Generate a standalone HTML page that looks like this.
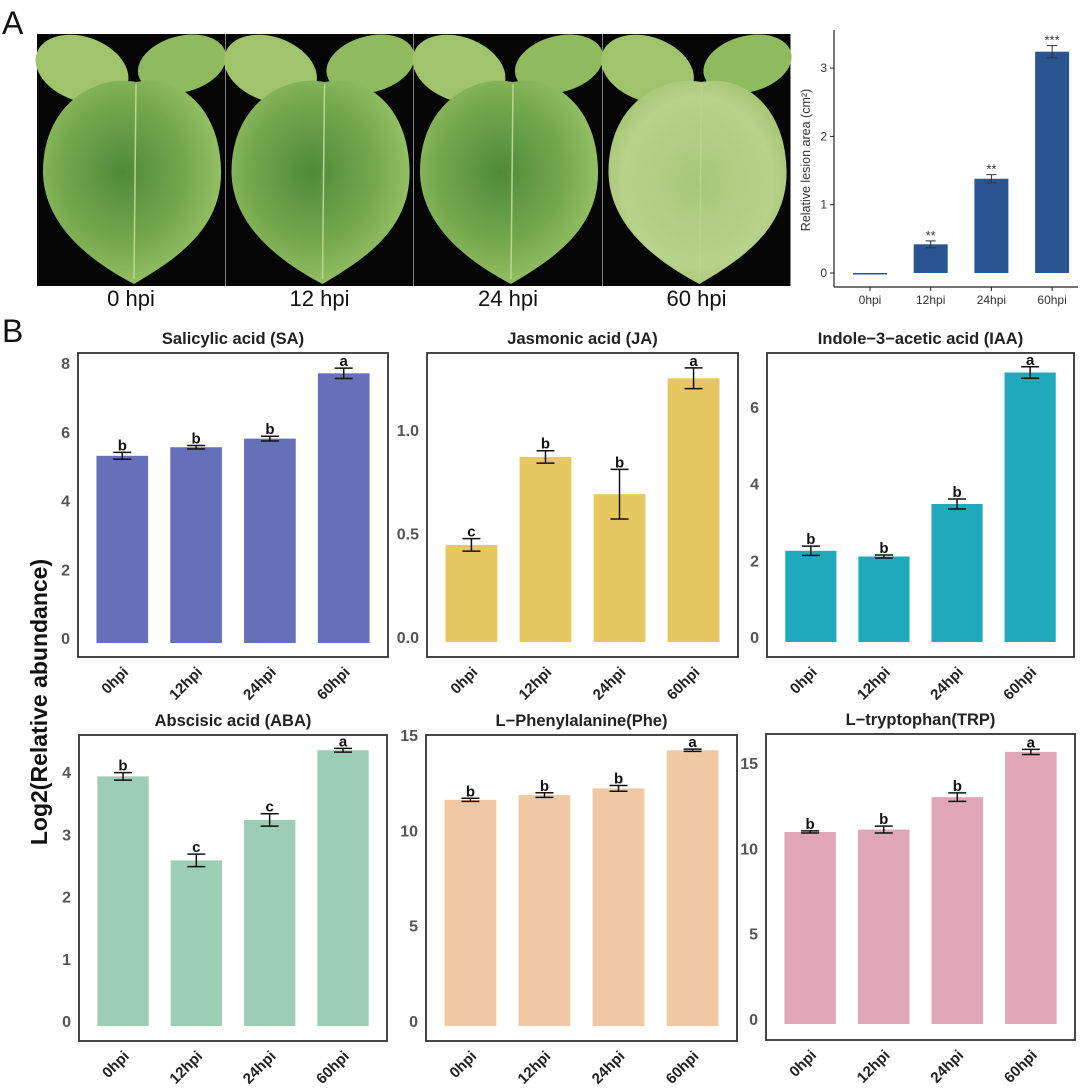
<!DOCTYPE html>
<html><head><meta charset="utf-8">
<style>
html,body{margin:0;padding:0;background:#fff;}
svg{display:block;font-family:"Liberation Sans",Arial,sans-serif;}
</style></head>
<body>
<svg id="fig" width="1080" height="1089" viewBox="0 0 1080 1089" xmlns="http://www.w3.org/2000/svg">
<defs>
<radialGradient id="leafg" cx="0.45" cy="0.45" r="0.6">
<stop offset="0" stop-color="#4f8a3a"/><stop offset="0.6" stop-color="#76a94e"/><stop offset="1" stop-color="#9cc468"/>
</radialGradient>
<radialGradient id="leafg2" cx="0.5" cy="0.5" r="0.6">
<stop offset="0" stop-color="#a8c878"/><stop offset="0.7" stop-color="#b9d28a"/><stop offset="1" stop-color="#9bbf6a"/>
</radialGradient>
</defs>
<text x="2" y="34" font-size="32" fill="#111">A</text>
<text x="2" y="342" font-size="32" fill="#111">B</text>
<g id="photos"></g>
<g id="lesion"></g>
<g id="panels"></g>
<text transform="translate(47,702) rotate(-90)" text-anchor="middle" font-size="23" font-weight="bold" fill="#111">Log2(Relative abundance)</text>
</svg>
<script>
const NS="http://www.w3.org/2000/svg";
function mk(tag,attrs,parent,txt){const e=document.createElementNS(NS,tag);for(const k in attrs)e.setAttribute(k,attrs[k]);if(txt!==undefined)e.textContent=txt;parent.appendChild(e);return e;}

// ---------- photos ----------
const photoLabels=["0 hpi","12 hpi","24 hpi","60 hpi"];
const photos=document.getElementById('photos');
photoLabels.forEach((lab,i)=>{
  const x0=37+i*188.5, y0=34, w=188, h=252;
  const g=mk('g',{},photos);
  
  
  mk('rect',{x:x0,y:y0,width:w,height:h,fill:'#050505'},g);
  mk('ellipse',{cx:x0+45,cy:y0+35,rx:48,ry:32,fill:'#9fc46c',transform:`rotate(20 ${x0+45} ${y0+35})`},g);
  mk('ellipse',{cx:x0+145,cy:y0+30,rx:45,ry:28,fill:'#8fbb5e',transform:`rotate(-15 ${x0+145} ${y0+30})`},g);
  const cx=x0+w/2+5;
  const d=`M${cx} ${y0+48} C${cx-40} ${y0+40} ${x0+5} ${y0+70} ${x0+6} ${y0+140} C${x0+8} ${y0+195} ${cx-40} ${y0+230} ${cx-2} ${y0+250} C${cx+40} ${y0+225} ${x0+w-2} ${y0+195} ${x0+w-4} ${y0+135} C${x0+w-6} ${y0+70} ${cx+40} ${y0+40} ${cx} ${y0+48} Z`;
  mk('path',{d:d,fill:i===3?'url(#leafg2)':'url(#leafg)'},g);
  mk('line',{x1:cx,y1:y0+50,x2:cx-2,y2:y0+245,stroke:'#b8d690','stroke-width':1.5},g);
  const t=mk('text',{x:x0+w/2,y:306,'text-anchor':'middle','font-size':22,fill:'#111'},g,lab);
  
  
});

// ---------- lesion chart ----------
const lesionCats=["0hpi","12hpi","24hpi","60hpi"];
const lesionVals=[0.0,0.42,1.38,3.24];
const lesionErr=[0.0,0.05,0.06,0.09];
const lesionStars=["","**","**","***"];
const lesionTicks=[0,1,2,3];
(function(){
  const L=document.getElementById('lesion');
  const axX=834, axY=287, y0=273, ppu=68.3;
  const xs=i=>870+i*60.7;
  const ys=v=>y0-v*ppu;
  mk('line',{x1:axX,y1:30,x2:axX,y2:axY,stroke:'#222','stroke-width':1.2},L);
  mk('line',{x1:axX,y1:axY,x2:1078,y2:axY,stroke:'#222','stroke-width':1.2},L);
  lesionTicks.forEach(t=>{
    mk('line',{x1:axX-4,y1:ys(t),x2:axX,y2:ys(t),stroke:'#222'},L);
    const e=mk('text',{x:axX-7,y:ys(t)+4,'text-anchor':'end','font-size':12,fill:'#333'},L,String(t));
    
    
  });
  lesionCats.forEach((c,i)=>{
    const cx=xs(i), v=lesionVals[i];
    mk('line',{x1:cx,y1:axY,x2:cx,y2:axY+4,stroke:'#222'},L);
    const r=mk('rect',{x:cx-17,y:ys(v),width:34,height:Math.max(1.5,y0-ys(v)),fill:'#2a5591'},L);
    
    
    if(lesionErr[i]>0){
      const t=ys(v+lesionErr[i]), b=ys(v-lesionErr[i]);
      mk('line',{x1:cx,y1:t,x2:cx,y2:b,stroke:'#333'},L);
      mk('line',{x1:cx-5,y1:t,x2:cx+5,y2:t,stroke:'#333'},L);
      mk('line',{x1:cx-5,y1:b,x2:cx+5,y2:b,stroke:'#333'},L);
    }
    if(lesionStars[i]){
      const s=mk('text',{x:cx,y:ys(v+lesionErr[i])-1,'text-anchor':'middle','font-size':13,fill:'#333'},L,lesionStars[i]);
      
      
    }
    const tl=mk('text',{x:cx,y:304,'text-anchor':'middle','font-size':12,fill:'#333'},L,c);
    
    
  });
  const yt=mk('text',{transform:'translate(810,160) rotate(-90)','text-anchor':'middle','font-size':12.5,fill:'#333'},L,'Relative lesion area (cm²)');
  
  
})();

// ---------- hormone panels ----------
const cats=["0hpi","12hpi","24hpi","60hpi"];
const saVals=[5.3,5.55,5.8,7.7];   const saErr=[0.1,0.05,0.07,0.15]; const saLet=["b","b","b","a"]; const saTicks=[0,2,4,6,8];
const jaVals=[0.445,0.87,0.69,1.25]; const jaErr=[0.03,0.03,0.12,0.05]; const jaLet=["c","b","b","a"]; const jaTicks=["0.0","0.5","1.0"];
const iaaVals=[2.25,2.1,3.47,6.9]; const iaaErr=[0.12,0.04,0.13,0.15]; const iaaLet=["b","b","b","a"]; const iaaTicks=[0,2,4,6];
const abaVals=[3.93,2.58,3.23,4.35]; const abaErr=[0.06,0.1,0.1,0.03]; const abaLet=["b","c","c","a"]; const abaTicks=[0,1,2,3,4];
const pheVals=[11.6,11.85,12.2,14.2]; const pheErr=[0.08,0.12,0.15,0.06]; const pheLet=["b","b","b","a"]; const pheTicks=[0,5,10,15];
const trpVals=[10.96,11.1,13.0,15.65]; const trpErr=[0.06,0.2,0.25,0.15]; const trpLet=["b","b","b","a"]; const trpTicks=[0,5,10,15];

const panels=[
 {id:'sa',title:'Salicylic acid (SA)',vals:saVals,err:saErr,let:saLet,ticks:saTicks,color:'#6670b8',x0:78,x1:388,top:353,bot:657,zero:638,unit:(638-363)/8},
 {id:'ja',title:'Jasmonic acid (JA)',vals:jaVals,err:jaErr,let:jaLet,ticks:jaTicks,color:'#e5c862',x0:427,x1:738,top:353,bot:657,zero:637,unit:(637-430)/1},
 {id:'iaa',title:'Indole−3−acetic acid (IAA)',vals:iaaVals,err:iaaErr,let:iaaLet,ticks:iaaTicks,color:'#1fa9bb',x0:767,x1:1074,top:353,bot:657,zero:637,unit:(637-407)/6},
 {id:'aba',title:'Abscisic acid (ABA)',vals:abaVals,err:abaErr,let:abaLet,ticks:abaTicks,color:'#9dcdb4',x0:79,x1:387,top:735,bot:1041,zero:1021,unit:(1021-772)/4},
 {id:'phe',title:'L−Phenylalanine(Phe)',vals:pheVals,err:pheErr,let:pheLet,ticks:pheTicks,color:'#f0c9a4',x0:426,x1:737,top:735,bot:1041,zero:1021,unit:(1021-735)/15},
 {id:'trp',title:'L−tryptophan(TRP)',vals:trpVals,err:trpErr,let:trpLet,ticks:trpTicks,color:'#dfa6b8',x0:766,x1:1075,top:734,bot:1040,zero:1019,unit:(1019-763)/15}
];
const P=document.getElementById('panels');
panels.forEach(p=>{
  const g=mk('g',{},P);
  
  
  const W=p.x1-p.x0, step=W/4.2, bw=step*0.7;
  const xs=i=>p.x0+step*(0.6+i);
  const ys=v=>p.zero-v*p.unit;
  const tt=mk('text',{x:(p.x0+p.x1)/2,y:p.top-9,'text-anchor':'middle','font-size':16.5,'font-weight':'bold',fill:'#222'},g,p.title);
  
  
  p.ticks.forEach(t=>{
    const v=parseFloat(t);
    const e=mk('text',{x:p.x0-8,y:ys(v)+6,'text-anchor':'end','font-size':16,'font-weight':'bold',fill:'#555'},g,String(t));
    
    
  });
  cats.forEach((c,i)=>{
    const cx=xs(i), v=p.vals[i], e=p.err[i];
    const r=mk('rect',{x:cx-bw/2,y:ys(v),width:bw,height:ys(0)+5-ys(v),fill:p.color},g);
    
    
    const t=ys(v+e), b=ys(v-e);
    mk('line',{x1:cx,y1:t,x2:cx,y2:b,stroke:'#111','stroke-width':1.5},g);
    mk('line',{x1:cx-9,y1:t,x2:cx+9,y2:t,stroke:'#111','stroke-width':1.5},g);
    mk('line',{x1:cx-9,y1:b,x2:cx+9,y2:b,stroke:'#111','stroke-width':1.5},g);
    const l=mk('text',{x:cx,y:t-2,'text-anchor':'middle','font-size':15,'font-weight':'bold',fill:'#111'},g,p.let[i]);
    
    
    const xl=mk('text',{'text-anchor':'end','font-size':15,'font-weight':'bold',fill:'#222',transform:`translate(${cx+7},${p.bot+16}) rotate(-45)`},g,c);
    
    
  });
  mk('rect',{x:p.x0,y:p.top,width:W,height:p.bot-p.top,fill:'none',stroke:'#333','stroke-width':1.8},g);
});
</script>
</body></html>
